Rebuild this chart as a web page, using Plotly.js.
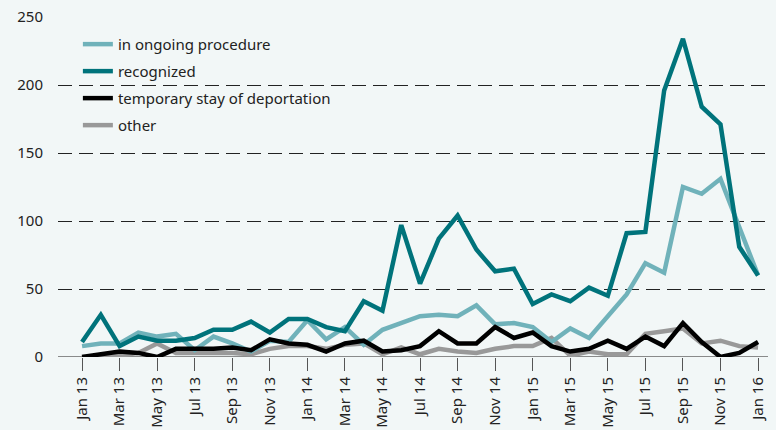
<!DOCTYPE html>
<html>
<head>
<meta charset="utf-8">
<script src="https://cdn.plot.ly/plotly-3.0.1.min.js"></script>
<style>html,body{margin:0;padding:0;background:#f2f7f7;}#chart{width:776px;height:430px;}</style>
</head>
<body>
<div id="chart"></div>
<script>
const months = ["Jan 13","Feb 13","Mar 13","Apr 13","May 13","Jun 13","Jul 13","Aug 13","Sep 13","Oct 13","Nov 13","Dec 13",
  "Jan 14","Feb 14","Mar 14","Apr 14","May 14","Jun 14","Jul 14","Aug 14","Sep 14","Oct 14","Nov 14","Dec 14",
  "Jan 15","Feb 15","Mar 15","Apr 15","May 15","Jun 15","Jul 15","Aug 15","Sep 15","Oct 15","Nov 15","Dec 15","Jan 16"];
const tickLabels = ["Jan 13","Mar 13","May 13","Jul 13","Sep 13","Nov 13","Jan 14","Mar 14","May 14","Jul 14","Sep 14","Nov 14",
  "Jan 15","Mar 15","May 15","Jul 15","Sep 15","Nov 15","Jan 16"];
const ongoing = [8,10,10,18,15,17,5,15,10,4,12,11, 27,13,22,9,20,25,30,31,30,38,24,25, 22,11,21,14,30,46,69,62,125,120,131,96, 60];
const recognized = [11,31,8,15,12,12,14,20,20,26,18,28, 28,22,19,41,34,97,54,87,104,79,63,65, 39,46,41,51,45,91,92,196,234,184,171,81, 60];
const temporary = [0,2,4,3,0,6,6,6,7,5,13,10, 9,4,10,12,4,5,8,19,10,10,22,14, 18,8,4,6,12,6,15,8,25,11,0,3, 11];
const other = [0,0,1,3,10,3,3,3,3,2,6,8, 8,6,9,10,2,7,2,6,4,3,6,8, 8,14,1,4,2,2,17,19,21,10,12,8, 7];
const names = ["in ongoing procedure","recognized","temporary stay of deportation","other"];
const yTicks = [0,50,100,150,200,250];

const colors = ["#70b2ba","#00737b","#000000","#999999"];
const series = [ongoing, recognized, temporary, other];
const drawOrder = [3,0,1,2];
const traces = drawOrder.map(i => ({
  x: months, y: series[i], type: "scatter", mode: "lines", name: names[i],
  line: {color: colors[i], width: 4.5, shape: "linear"},
  legendgroup: "g" + i, legendrank: i+1
}));

const layout = {
  width: 776, height: 430,
  paper_bgcolor: "#f2f7f7", plot_bgcolor: "#f2f7f7",
  margin: {l: 58, r: 8, t: 17, b: 73},
  font: {family: "Noto Sans, sans-serif", color: "#222"},
  showlegend: true,
  legend: {x: 0.028, y: 0.968, xanchor: "left", yanchor: "top", bgcolor: "rgba(0,0,0,0)",
    font: {size: 15, color: "#222"}, tracegroupgap: 4.5, traceorder: "grouped"},
  xaxis: {
    type: "category", categoryorder: "array", categoryarray: months,
    range: [-1.28, 36.53],
    tickmode: "array", tickvals: tickLabels, ticktext: tickLabels,
    tickangle: -90, ticks: "outside", ticklen: 13, tickcolor: "#555", tickwidth: 1,
    tickfont: {size: 15, color: "#222"},
    showgrid: false, zeroline: false, showline: false
  },
  yaxis: {
    range: [0, 250], tickvals: yTicks, ticktext: yTicks.map(String),
    showgrid: true, gridcolor: "#222", gridwidth: 1, griddash: "14px,7px",
    zeroline: false, showline: false, ticks: "", ticklabelstandoff: 14,
    tickfont: {size: 15, color: "#222"}
  },
  shapes: [{type: "line", xref: "paper", yref: "y", x0: 0, x1: 1, y0: 0, y1: 0,
    line: {color: "#666", width: 1.5}, layer: "below"}]
};
Plotly.newPlot("chart", traces, layout, {displayModeBar: false, staticPlot: true});
</script>
</body>
</html>
